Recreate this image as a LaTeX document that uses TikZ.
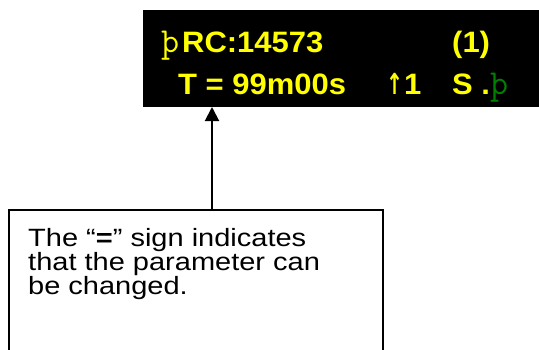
\documentclass[tikz,border=0pt]{standalone}
\usepackage{fontspec}
\setmainfont{Liberation Sans}
\newfontfamily\scrfont[FakeStretch=1.05]{Liberation Sans}
\newfontfamily\boxfont[FakeStretch=1.16]{Liberation Sans}
\newfontfamily\thornfont{Latin Modern Mono}
\newfontfamily\arrowfont{DejaVu Sans}
\usetikzlibrary{arrows.meta}
\definecolor{lcdyellow}{HTML}{FFFF00}
\definecolor{lcdgreen}{HTML}{008000}
\tikzset{
  lcdtext/.style={text=lcdyellow, anchor=base west, inner sep=0pt, font=\scrfont\bfseries\fontsize{29.5}{30}\selectfont},
  thorn/.style={anchor=base west, inner sep=0pt, font=\thornfont\fontsize{35}{30}\selectfont},
  boxtext/.style={anchor=base west, inner sep=0pt, font=\boxfont\fontsize{25}{25}\selectfont},
  pointer/.style={line width=2pt, -{Triangle[width=14pt,length=14pt]}}
}
\begin{document}
\begin{tikzpicture}[x=1pt,y=-1pt]
\useasboundingbox (0,0) rectangle (539,349);
\fill[white] (0,0) rectangle (539,349);
% LCD screen
\node[fill=black, minimum width=396, minimum height=97, anchor=north west, inner sep=0pt, outer sep=0pt] (screen) at (143,10) {};
% row 1
\node[thorn, text=lcdyellow] (t1) at (161,52) {þ};
\node[lcdtext] (rc) at (182,52) {RC:14573};
\node[lcdtext] (one) at (452,52) {(1)};
% row 2
\node[lcdtext] (time) at (178,94) {T = 99m00s};
\node[lcdtext] (up) at (386,94) {\scalebox{0.7}[1]{\arrowfont\bfseries\fontsize{29}{30}\selectfont ↑}\kern1pt 1};
\node[lcdtext] (s) at (452,94) {S .};
\node[thorn, text=lcdgreen] (t2) at (490,94) {þ};
% callout box
\node[draw, line width=1.5pt, minimum width=374, minimum height=160, anchor=north west, inner sep=0pt] (callout) at (8,209) {};
\node[boxtext] (l1) at (28,246) {The “\textbf{=}” sign indicates};
\node[boxtext] (l2) at (28,270) {that the parameter can};
\node[boxtext] (l3) at (28,294) {be changed.};
% arrow
\coordinate (ax) at (212,0);
\draw[pointer] (ax |- callout.north) -- (ax |- screen.south);
\end{tikzpicture}
\end{document}
